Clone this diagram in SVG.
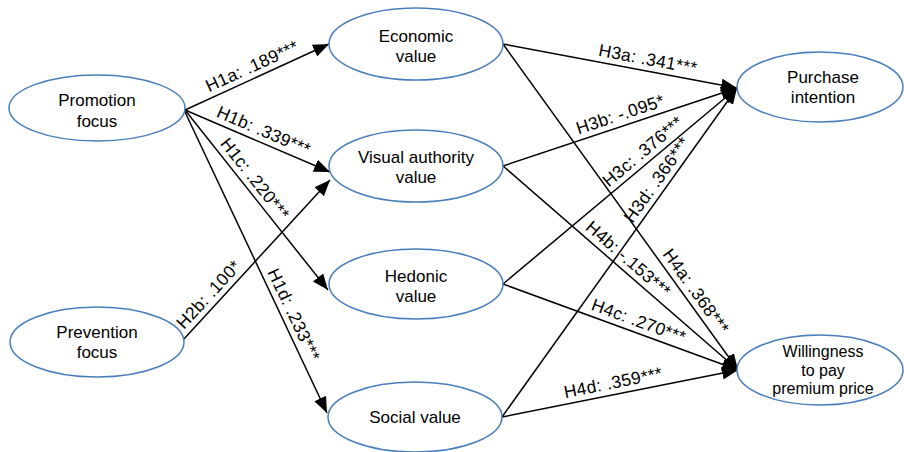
<svg xmlns="http://www.w3.org/2000/svg" width="904" height="452" viewBox="0 0 904 452">
<style>
.node ellipse{fill:#fff;stroke:#4a7ebb;stroke-width:1.5}
.node text{font-family:"Liberation Sans",Arial,sans-serif;font-size:17px;fill:#000;text-anchor:middle}
.node text.sm{font-size:16px}
.conn line{stroke:#000;stroke-width:1.5;marker-end:url(#arr)}
.lbl{font-family:"Liberation Sans",Arial,sans-serif;font-size:17.5px;letter-spacing:0.3px;fill:#000;text-anchor:middle}
</style>
<defs>
<marker id="arr" markerUnits="userSpaceOnUse" markerWidth="17" markerHeight="13" refX="16" refY="6.5" orient="auto">
<path d="M0,0 L16,6.5 L0,13 z" fill="#000"/>
</marker>
</defs>
<rect width="904" height="452" fill="#fff"/>
<g id="connectors" class="conn">
<line x1="185" y1="110" x2="329" y2="44"/>
<line x1="185" y1="110" x2="330" y2="172"/>
<line x1="185" y1="110" x2="328" y2="290"/>
<line x1="185" y1="112" x2="327" y2="413"/>
<line x1="183" y1="340" x2="330" y2="180"/>
<line x1="503" y1="44" x2="737" y2="88"/>
<line x1="503" y1="166" x2="737" y2="88"/>
<line x1="503" y1="284" x2="737" y2="88"/>
<line x1="502" y1="417" x2="737" y2="88"/>
<line x1="503" y1="44" x2="738" y2="370"/>
<line x1="503" y1="166" x2="738" y2="370"/>
<line x1="503" y1="284" x2="738" y2="370"/>
<line x1="502" y1="417" x2="738" y2="370"/>
</g>
<g id="labels">
<text class="lbl" transform="translate(257,77) rotate(-24.6)" y="-6">H1a: .189***</text>
<text class="lbl" transform="translate(259,141.6) rotate(23.2)" y="-6">H1b: .339***</text>
<text class="lbl" transform="translate(245.6,186.3) rotate(51.5)" y="-6">H1c: .220***</text>
<text class="lbl" transform="translate(283,319.7) rotate(64.7)" y="-6">H1d: .233***</text>
<text class="lbl" transform="translate(217.4,302.6) rotate(-47.4)" y="-6">H2b: .100*</text>
<text class="lbl" transform="translate(645.7,70.8) rotate(10.6)" y="-6">H3a: .341***</text>
<text class="lbl" transform="translate(624,125.7) rotate(-18.4)" y="-6">H3b: -.095*</text>
<text class="lbl" transform="translate(650.4,160.5) rotate(-40)" y="-6">H3c: .376***</text>
<text class="lbl" transform="translate(666.5,186.7) rotate(-54.5)" y="-6">H3d: .366***</text>
<text class="lbl" transform="translate(686.3,298.3) rotate(54.2)" y="-6">H4a: .368***</text>
<text class="lbl" transform="translate(620.5,268) rotate(41)" y="-6">H4b: -.153***</text>
<text class="lbl" transform="translate(634.6,332.2) rotate(20.1)" y="-6">H4c: .270***</text>
<text class="lbl" transform="translate(615.3,394.4) rotate(-11.3)" y="-6">H4d: .359***</text>
</g>
<g id="promotion" class="node">
<ellipse cx="97" cy="108" rx="88" ry="33"/>
<text x="97" y="106">Promotion</text>
<text x="97" y="127">focus</text>
</g>
<g id="prevention" class="node">
<ellipse cx="97" cy="342" rx="87" ry="35"/>
<text x="97" y="338">Prevention</text>
<text x="97" y="358">focus</text>
</g>
<g id="economic" class="node">
<ellipse cx="416" cy="44" rx="87" ry="36"/>
<text x="416" y="42">Economic</text>
<text x="416" y="62">value</text>
</g>
<g id="visual" class="node">
<ellipse cx="416" cy="166" rx="87" ry="36"/>
<text x="416" y="163">Visual authority</text>
<text x="416" y="183">value</text>
</g>
<g id="hedonic" class="node">
<ellipse cx="416" cy="284" rx="87" ry="35"/>
<text x="416" y="282">Hedonic</text>
<text x="416" y="302">value</text>
</g>
<g id="social" class="node">
<ellipse cx="415" cy="417" rx="87" ry="35"/>
<text x="415" y="423">Social value</text>
</g>
<g id="purchase" class="node">
<ellipse cx="820" cy="87" rx="83" ry="35"/>
<text x="823" y="83">Purchase</text>
<text x="823" y="103">intention</text>
</g>
<g id="willingness" class="node">
<ellipse cx="820" cy="370" rx="83" ry="35"/>
<text class="sm" x="823" y="357">Willingness</text>
<text class="sm" x="823" y="375.5">to pay</text>
<text class="sm" x="823" y="394">premium price</text>
</g>
</svg>
